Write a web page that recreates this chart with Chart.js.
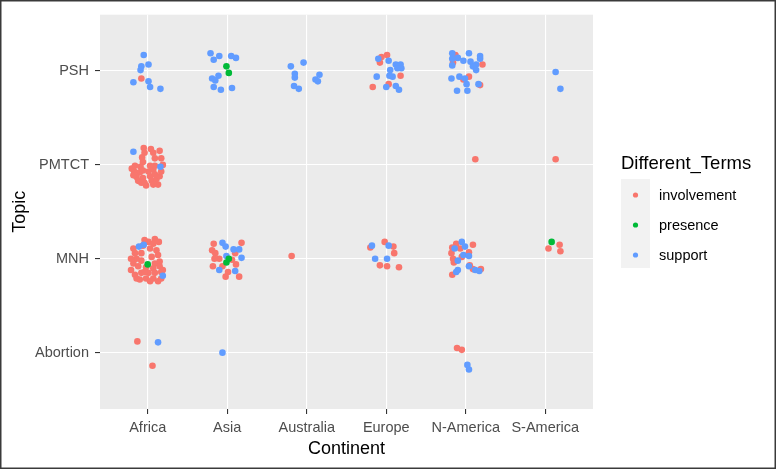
<!DOCTYPE html>
<html>
<head>
<meta charset="utf-8">
<script src="https://cdn.jsdelivr.net/npm/chart.js@4.4.0/dist/chart.umd.min.js"></script>
<style>
  html, body { margin: 0; padding: 0; background: #fff; }
  #wrap { width: 776px; height: 469px; }
</style>
</head>
<body>
<div id="wrap"><canvas id="chart" width="776" height="469"></canvas></div>
<script>
const continents = ['Africa', 'Asia', 'Australia', 'Europe', 'N-America', 'S-America'];
const topics = ['Abortion', 'MNH', 'PMTCT', 'PSH'];
const termNames = ['involvement', 'presence', 'support'];
const termColors = ['#F8766D', '#00BA38', '#619CFF'];

// jittered points: [continent position, topic position]
const involvement = [
  // PSH
  [0.92, 3.92],
  [3.94, 4.15], [4.01, 4.17], [3.92, 4.09], [4.18, 3.95], [3.83, 3.83], [4.03, 3.86],
  [4.87, 4.17], [4.84, 4.09], [5.21, 4.07], [5.04, 3.94], [4.97, 3.91], [5.18, 3.85],
  // PMTCT
  [0.95, 3.18], [1.04, 3.17], [1.15, 3.15], [0.96, 3.13], [0.93, 3.08], [0.94, 3.03],
  [1.07, 3.13], [1.09, 3.07], [1.17, 3.07], [0.84, 2.99], [0.91, 2.98], [0.83, 2.93],
  [0.90, 2.92], [1.01, 2.93], [1.07, 2.95], [1.09, 2.99], [1.03, 2.88], [0.94, 2.86],
  [0.86, 2.87], [0.88, 2.83], [0.96, 2.81], [1.05, 2.83], [1.11, 2.85], [1.15, 2.88],
  [1.17, 2.93], [1.13, 2.79], [1.07, 2.79], [0.98, 2.78], [0.92, 2.81], [0.82, 2.89],
  [1.09, 2.90], [1.03, 2.99], [0.94, 2.94], [0.80, 2.96], [1.19, 3.00],
  [5.12, 3.06], [6.13, 3.06],
  // MNH
  [0.96, 2.20], [1.09, 2.21], [1.14, 2.18], [0.82, 2.11], [0.84, 2.06], [1.03, 2.11],
  [1.11, 2.09], [1.13, 2.04], [1.05, 2.02], [0.86, 2.00], [0.92, 1.98], [0.82, 1.95],
  [1.09, 1.95], [1.15, 1.97], [0.88, 1.92], [0.79, 1.88], [0.98, 1.91], [1.07, 1.90],
  [1.15, 1.92], [0.84, 1.83], [0.92, 1.85], [1.01, 1.85], [1.09, 1.85], [1.17, 1.86],
  [0.90, 1.78], [0.98, 1.79], [1.07, 1.79], [1.13, 1.76], [1.19, 1.88], [0.79, 2.00],
  [0.92, 2.06], [1.01, 2.18], [0.94, 2.14], [1.07, 2.16], [0.96, 1.86], [0.86, 1.79],
  [1.03, 1.76], [1.17, 1.79],
  [1.83, 2.16], [2.18, 2.17], [1.81, 2.09], [2.10, 2.06], [1.85, 2.06], [1.90, 2.00],
  [2.06, 1.99], [1.94, 1.92], [1.84, 2.00], [2.11, 1.94], [2.01, 1.86], [1.98, 1.81],
  [2.15, 1.81], [1.82, 1.92],
  [2.81, 2.03],
  [3.98, 2.18], [3.80, 2.12], [4.09, 2.13], [4.10, 2.06], [3.92, 1.93], [4.01, 1.92], [4.16, 1.91],
  [4.88, 2.16], [5.09, 2.15], [4.83, 2.12], [4.93, 2.11], [5.04, 2.07], [4.82, 2.06],
  [4.84, 2.00], [4.95, 2.02], [4.85, 1.96], [5.05, 1.93], [5.09, 1.89], [5.19, 1.89],
  [4.83, 1.83],
  [6.18, 2.15], [6.04, 2.11], [6.19, 2.08],
  // Abortion
  [0.87, 1.12], [1.06, 0.86], [4.89, 1.05], [4.95, 1.03]
];

const presence = [
  [1.99, 4.05], [2.02, 3.98],
  [1.00, 1.94], [2.02, 2.00], [1.99, 1.96], [6.08, 2.18]
];

const support = [
  // PSH
  [0.95, 4.17], [1.01, 4.07], [0.92, 4.05], [0.91, 4.01], [0.82, 3.88], [1.01, 3.89],
  [1.03, 3.83], [1.16, 3.81],
  [1.79, 4.19], [1.90, 4.16], [1.83, 4.12], [2.05, 4.16], [2.11, 4.14], [1.89, 3.95],
  [1.81, 3.92], [1.85, 3.90], [1.83, 3.83], [1.92, 3.80], [2.06, 3.82],
  [2.80, 4.05], [2.96, 4.09], [2.85, 3.97], [2.85, 3.93], [2.84, 3.84], [2.90, 3.81],
  [3.16, 3.96], [3.11, 3.91], [3.14, 3.89],
  [3.90, 4.13], [4.03, 4.11], [4.12, 4.07], [4.18, 4.07], [4.19, 4.03], [4.14, 4.03],
  [4.05, 4.01], [4.08, 3.94], [3.88, 3.94], [4.04, 3.95], [4.00, 3.83], [4.12, 3.84],
  [4.16, 3.80],
  [4.83, 4.19], [4.90, 4.14], [4.83, 4.13], [5.04, 4.19], [5.18, 4.16], [5.18, 4.13],
  [4.97, 4.11], [5.06, 4.10], [4.83, 4.06], [5.13, 4.07], [5.09, 4.05], [5.13, 4.01],
  [4.82, 3.92], [4.92, 3.94], [4.99, 3.92], [5.01, 3.86], [5.16, 3.86], [4.89, 3.79],
  [5.02, 3.79],
  [6.13, 3.99], [6.19, 3.81],
  // PMTCT
  [0.82, 3.14], [1.16, 2.98],
  // MNH
  [0.89, 2.13], [0.95, 2.15], [1.19, 1.82],
  [1.94, 2.17], [1.98, 2.13], [2.08, 2.10], [2.15, 2.10], [2.18, 2.01], [1.99, 2.03],
  [1.90, 1.88], [2.10, 1.87],
  [3.82, 2.14], [4.03, 2.14], [3.86, 2.00], [4.01, 2.00],
  [4.95, 2.18], [4.86, 2.11], [4.99, 2.13], [4.97, 2.04], [5.04, 2.03], [4.90, 1.98],
  [5.04, 1.92], [5.12, 1.88], [5.17, 1.87], [4.90, 1.88], [4.88, 1.86],
  // Abortion
  [1.13, 1.11], [1.94, 1.00], [5.02, 0.87], [5.04, 0.82]
];

const seriesData = [involvement, presence, support];
const drawOrder = [2, 0, 1];
const fontFamily = '"Liberation Sans", Arial, sans-serif';

const panelPlugin = {
  id: 'panel',
  beforeDraw: (chart) => {
    const { ctx, chartArea } = chart;
    ctx.save();
    ctx.fillStyle = '#FFFFFF';
    ctx.fillRect(0, 0, chart.width, chart.height);
    ctx.fillStyle = '#EBEBEB';
    ctx.fillRect(chartArea.left, chartArea.top, chartArea.right - chartArea.left, chartArea.bottom - chartArea.top);
    ctx.restore();
  },
  afterDraw: (chart) => {
    const { ctx } = chart;
    ctx.save();
    // legend
    ctx.fillStyle = '#000000';
    ctx.font = '18.5px ' + fontFamily;
    ctx.textBaseline = 'middle';
    ctx.textAlign = 'left';
    ctx.fillText('Different_Terms', 621, 164);
    ctx.fillStyle = '#F2F2F2';
    ctx.fillRect(621, 179, 29, 89);
    termNames.forEach((name, i) => {
      const cy = 195 + i * 30;
      ctx.fillStyle = termColors[i];
      ctx.beginPath();
      ctx.arc(635.5, cy, 2.6, 0, Math.PI * 2);
      ctx.fill();
      ctx.fillStyle = '#000000';
      ctx.font = '14.5px ' + fontFamily;
      ctx.fillText(name, 659, cy + 1);
    });
    // outer frame
    ctx.strokeStyle = '#3A3A3A';
    ctx.lineWidth = 1.5;
    ctx.strokeRect(0.75, 0.75, chart.width - 1.5, chart.height - 1.5);
    ctx.restore();
  }
};

new Chart(document.getElementById('chart'), {
  type: 'scatter',
  data: {
    datasets: termNames.map((name, i) => ({
      label: name,
      data: seriesData[i].map(p => ({ x: p[0], y: p[1] })),
      backgroundColor: termColors[i],
      borderColor: termColors[i],
      borderWidth: 0,
      pointRadius: 3.3,
      pointHoverRadius: 3.3,
      order: drawOrder[i]
    }))
  },
  options: {
    responsive: false,
    devicePixelRatio: 1,
    animation: false,
    layout: { padding: { left: 0, right: 183, top: 10, bottom: 0 } },
    plugins: {
      legend: { display: false },
      tooltip: { enabled: false }
    },
    scales: {
      x: {
        type: 'linear',
        min: 0.4,
        max: 6.6,
        afterBuildTicks: (scale) => { scale.ticks = continents.map((c, i) => ({ value: i + 1 })); },
        afterFit: (scale) => { scale.height = 60; },
        ticks: {
          callback: (v) => continents[Math.round(v) - 1],
          color: '#4D4D4D',
          font: { size: 14.5, family: fontFamily },
          padding: 5,
          maxRotation: 0,
          autoSkip: false
        },
        grid: { color: '#FFFFFF', lineWidth: 1.1, tickColor: '#333333', tickLength: 5 },
        border: { display: false },
        title: {
          display: true,
          text: 'Continent',
          color: '#000000',
          font: { size: 18, family: fontFamily },
          padding: { top: 0, bottom: 9 }
        }
      },
      y: {
        type: 'linear',
        min: 0.4,
        max: 4.6,
        afterBuildTicks: (scale) => { scale.ticks = topics.map((t, i) => ({ value: i + 1 })); },
        afterFit: (scale) => { scale.width = 100; },
        ticks: {
          callback: (v) => topics[Math.round(v) - 1],
          color: '#4D4D4D',
          font: { size: 14.5, family: fontFamily },
          padding: 6,
          autoSkip: false
        },
        grid: { color: '#FFFFFF', lineWidth: 1.1, tickColor: '#333333', tickLength: 5 },
        border: { display: false },
        title: {
          display: true,
          text: 'Topic',
          color: '#000000',
          font: { size: 18, family: fontFamily },
          padding: { top: 9, bottom: 0 }
        }
      }
    }
  },
  plugins: [panelPlugin]
});
</script>
</body>
</html>
